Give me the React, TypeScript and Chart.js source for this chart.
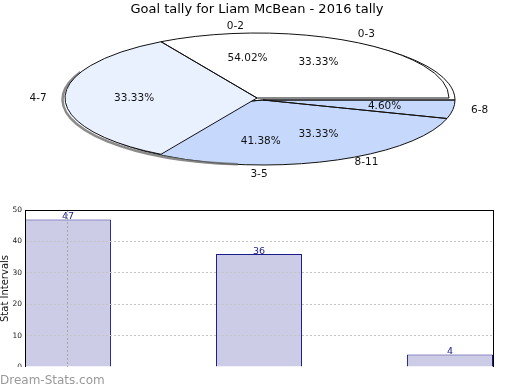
import React, { useEffect, useRef } from 'react';
import { Chart, registerables } from 'chart.js';

Chart.register(...registerables);

const titleText = 'Goal tally for Liam McBean - 2016 tally';

// Pie layer A (lower layer)
const pieALabels = ['0-2', '3-5', '6-8'];
const pieAValues = [54.02, 41.38, 4.6];
const pieAColors = ['#ffffff', '#c6d9fd', '#c6d9fd'];
const pieAOutline = [true, true, true];

// Pie layer B (upper layer)
const pieBLabels = ['0-3', '4-7', '8-11'];
const pieBValues = [33.33, 33.33, 33.33];
const pieBColors = ['#ffffff', '#eaf1fe', 'rgba(0,0,0,0)'];
const pieBOutline = [true, true, false];

// Bar chart
const barPositions = [1, 2, 3];
const barValues = [47, 36, 4];
const xTickValues = [1];
const xTickLabels = ['1'];
const yMin = 0;
const yMax = 50;
const yStep = 10;
const yAxisTitle = 'Stat Intervals';
const watermark = 'Dream-Stats.com';

const PIE_RADIUS = 192;
const K = 65 / 192;
const FONT = '"DejaVu Sans", Verdana, sans-serif';

function rev(a: any[]) {
  return [...a].reverse();
}

function strokeArcs(chart: any, outline: boolean[]) {
  const meta = chart.getDatasetMeta(0);
  const ctx = chart.ctx;
  const n = outline.length;
  ctx.save();
  ctx.strokeStyle = '#111';
  ctx.lineWidth = 1;
  meta.data.forEach((el: any, i: number) => {
    const orig = n - 1 - i;
    if (!outline[orig]) return;
    const { x, y, startAngle, endAngle, outerRadius } = el;
    ctx.beginPath();
    ctx.moveTo(x, y);
    ctx.ellipse(x, y, outerRadius, outerRadius * K, 0, startAngle, endAngle);
    ctx.closePath();
    ctx.stroke();
  });
  ctx.restore();
}

function drawPieLabels(ctx: CanvasRenderingContext2D, chart: any, labels: string[], values: number[]) {
  const meta = chart.getDatasetMeta(0);
  const n = labels.length;
  ctx.save();
  ctx.fillStyle = '#111';
  ctx.font = `10.5px ${FONT}`;
  ctx.textAlign = 'center';
  ctx.textBaseline = 'middle';
  meta.data.forEach((el: any, i: number) => {
    const orig = n - 1 - i;
    const { x, y, startAngle, endAngle, outerRadius } = el;
    const mid = (startAngle + endAngle) / 2;
    const c = Math.cos(mid);
    const s = Math.sin(mid);
    ctx.fillText(values[orig].toFixed(2) + '%', x + 0.64 * outerRadius * c, y + 0.64 * outerRadius * K * s);
    ctx.fillText(labels[orig], x + 1.14 * outerRadius * c, y + 1.14 * outerRadius * K * s);
  });
  ctx.restore();
}

function ellipseTransformPlugin(id: string, outline: boolean[], extra?: (chart: any) => void, before?: (chart: any) => void) {
  return {
    id,
    beforeDatasetsDraw(chart: any) {
      if (before) before(chart);
      const arc = chart.getDatasetMeta(0).data[0];
      const ctx = chart.ctx;
      ctx.save();
      ctx.translate(arc.x, arc.y);
      ctx.scale(1, K);
      ctx.translate(-arc.x, -arc.y);
    },
    afterDatasetsDraw(chart: any) {
      chart.ctx.restore();
      strokeArcs(chart, outline);
      if (extra) extra(chart);
    },
  };
}

function pieConfig(labels: string[], values: number[], colors: string[], padding: any, titleColor: string, plugin: any) {
  return {
    type: 'pie',
    data: {
      labels: rev(labels),
      datasets: [
        {
          data: rev(values),
          backgroundColor: rev(colors),
          borderWidth: 0,
          clip: false,
        },
      ],
    },
    options: {
      animation: false,
      responsive: false,
      events: [],
      rotation: 90,
      radius: PIE_RADIUS,
      layout: { padding },
      plugins: {
        legend: { display: false },
        tooltip: { enabled: false },
        title: {
          display: true,
          text: titleText,
          color: titleColor,
          font: { family: FONT, size: 13, weight: 'normal' },
          padding: { top: 2, bottom: 0 },
        },
      },
    },
    plugins: [plugin],
  } as any;
}

export default function App() {
  const pieARef = useRef<HTMLCanvasElement>(null);
  const pieBRef = useRef<HTMLCanvasElement>(null);
  const barRef = useRef<HTMLCanvasElement>(null);

  useEffect(() => {
    const charts: Chart[] = [];

    const chartA: any = new Chart(
      pieARef.current!,
      pieConfig(pieALabels, pieAValues, pieAColors, { left: 6, right: 0, top: 0, bottom: 7.6 }, 'rgba(0,0,0,0)',
        ellipseTransformPlugin('ellA', pieAOutline))
    );
    charts.push(chartA);

    const shadow = (chart: any) => {
      const el = chart.getDatasetMeta(0).data[1];
      const ctx = chart.ctx;
      ctx.save();
      ctx.strokeStyle = 'rgba(110,110,110,0.8)';
      ctx.lineWidth = 2.5;
      ctx.beginPath();
      ctx.ellipse(el.x - 2.5, el.y + 1.5, el.outerRadius, el.outerRadius * K, 0, (95 * Math.PI) / 180, (205 * Math.PI) / 180);
      ctx.stroke();
      ctx.restore();
    };

    const chartB: any = new Chart(
      pieBRef.current!,
      pieConfig(pieBLabels, pieBValues, pieBColors, { left: 0, right: 6, top: 0, bottom: 11.6 }, '#000',
        ellipseTransformPlugin('ellB', pieBOutline, (chart: any) => {
          drawPieLabels(chart.ctx, chart, pieBLabels, pieBValues);
          drawPieLabels(chart.ctx, chartA, pieALabels, pieAValues);
        }, shadow))
    );
    charts.push(chartB);

    const framePlugin = {
      id: 'frame',
      afterDatasetsDraw(chart: any) {
        const meta = chart.getDatasetMeta(0);
        const ctx = chart.ctx;
        ctx.save();
        ctx.fillStyle = '#1a1a8c';
        ctx.font = `9.5px ${FONT}`;
        ctx.textAlign = 'center';
        ctx.textBaseline = 'alphabetic';
        meta.data.forEach((el: any, i: number) => {
          ctx.fillText(String(barValues[i]), el.x, el.y);
        });
        ctx.restore();
      },
      afterDraw(chart: any) {
        const { left, top, right, bottom } = chart.chartArea;
        const ctx = chart.ctx;
        ctx.save();
        ctx.strokeStyle = '#000';
        ctx.lineWidth = 1;
        ctx.strokeRect(Math.round(left) + 0.5, Math.round(top) + 0.5, Math.round(right - left), Math.round(bottom - top));
        ctx.restore();
      },
    };

    const bar = new Chart(barRef.current!, {
      type: 'bar',
      data: {
        datasets: [
          {
            data: barPositions.map((x, i) => ({ x, y: barValues[i] })),
            backgroundColor: '#ccccE6',
            borderColor: '#1a1a8c',
            borderWidth: 1,
            barPercentage: 0.45,
            categoryPercentage: 1,
          },
        ],
      },
      options: {
        animation: false,
        responsive: false,
        events: [],
        layout: { padding: { top: 15, bottom: -3, left: 0, right: 27 } },
        plugins: { legend: { display: false }, tooltip: { enabled: false } },
        scales: {
          x: {
            type: 'linear',
            bounds: 'data',
            offset: false,
            min: 0.775,
            max: 3.225,
            afterBuildTicks: (s: any) => {
              s.ticks = xTickValues.map((v) => ({ value: v }));
            },
            afterFit: (s: any) => {
              s.height = 0;
              s.paddingLeft = 0;
              s.paddingRight = 0;
              s.paddingTop = 0;
              s.paddingBottom = 0;
            },
            ticks: {
              z: 1,
              autoSkip: false,
              maxRotation: 0,
              padding: -8,
              color: '#222',
              font: { family: FONT, size: 8 },
              callback: (_v: any, i: number) => xTickLabels[i] ?? '',
            },
            grid: { z: 1, color: '#a8a8a8', drawTicks: false, offset: false },
            border: { display: false, dash: [2, 2] },
          },
          y: {
            min: yMin,
            max: yMax,
            afterFit: (s: any) => {
              s.width = 25;
              s.paddingTop = 0;
              s.paddingBottom = 0;
            },
            ticks: {
              stepSize: yStep,
              padding: 3,
              color: '#222',
              font: { family: FONT, size: 7.5 },
            },
            grid: {
              z: 1,
              drawTicks: false,
              color: (c: any) => (c.tick && (c.tick.value === yMin || c.tick.value === yMax) ? 'rgba(0,0,0,0)' : '#c4c4c4'),
            },
            border: { display: true, color: '#000', dash: [2, 2], z: 2 },
            title: {
              display: true,
              text: yAxisTitle,
              color: '#111',
              font: { family: FONT, size: 10 },
              padding: { top: -0.5, bottom: 0 },
            },
          },
        },
      } as any,
      plugins: [framePlugin],
    } as any);
    charts.push(bar);

    return () => charts.forEach((c) => c.destroy());
  }, []);

  return (
    <div style={{ position: 'absolute', left: 0, top: 0, width: 520, height: 390, background: '#fff', overflow: 'hidden' }}>
      <canvas ref={pieARef} width={520} height={190} style={{ position: 'absolute', left: 0, top: 0 }} />
      <canvas ref={pieBRef} width={520} height={190} style={{ position: 'absolute', left: 0, top: 0 }} />
      <canvas ref={barRef} width={520} height={172} style={{ position: 'absolute', left: 0, top: 195 }} />
      <div
        style={{
          position: 'absolute',
          left: 0,
          top: 373,
          font: `12px ${FONT}`,
          lineHeight: '14px',
          color: '#999',
          whiteSpace: 'nowrap',
        }}
      >
        {watermark}
      </div>
    </div>
  );
}
